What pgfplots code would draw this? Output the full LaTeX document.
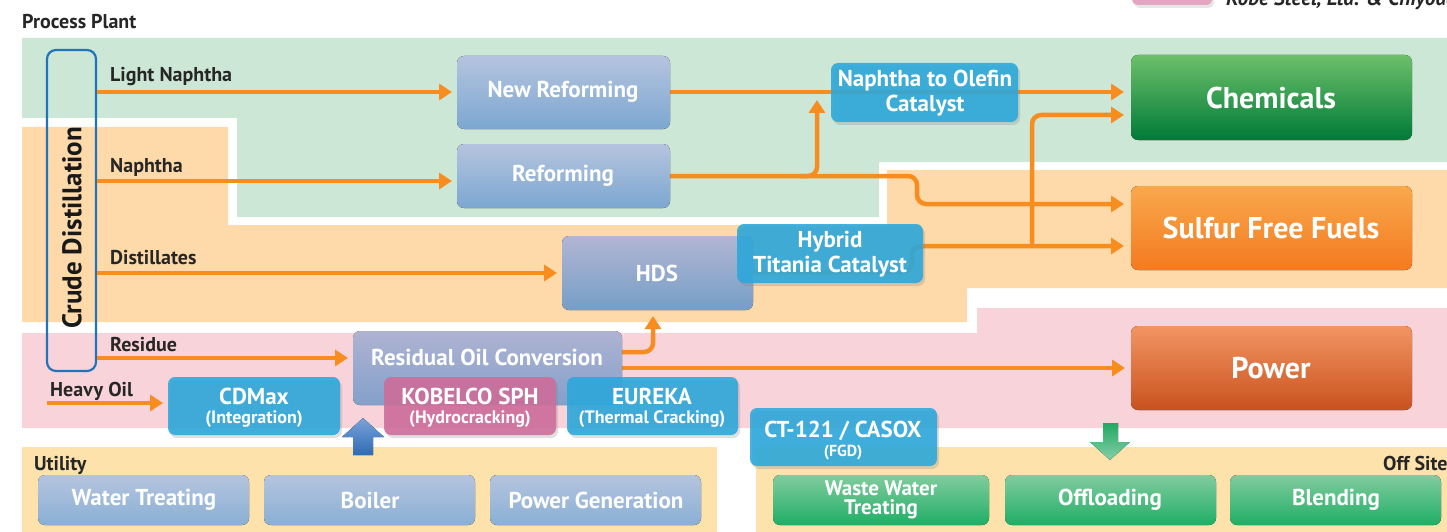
\documentclass[border=0pt]{standalone}
\usepackage{fontspec}
\setmainfont{PT Sans}
\usepackage{pgfplots}
\pgfplotsset{compat=1.18}
\usetikzlibrary{arrows.meta,calc,shadows}

\definecolor{bgGreen}{HTML}{CCE7D6}
\definecolor{bgOrange}{HTML}{FED9A9}
\definecolor{bgPink}{HTML}{F9D3DA}
\definecolor{bgUtil}{HTML}{FDE2AB}
\definecolor{bgTop}{HTML}{B5C4DE}
\definecolor{bgBot}{HTML}{7CA7D1}
\definecolor{rocTop}{HTML}{B8BCDD}
\definecolor{rocBot}{HTML}{8AA9D5}
\definecolor{cyanBox}{HTML}{2AA8DC}
\definecolor{pinkBox}{HTML}{CF6C9B}
\definecolor{chemTop}{HTML}{6CC06A}
\definecolor{chemBot}{HTML}{007A38}
\definecolor{sffTop}{HTML}{F9A84C}
\definecolor{sffBot}{HTML}{F47A20}
\definecolor{powTop}{HTML}{F29563}
\definecolor{powBot}{HTML}{C9521E}
\definecolor{offTop}{HTML}{82CC9E}
\definecolor{offBot}{HTML}{1FAE66}
\definecolor{lineOr}{HTML}{F68D1E}
\definecolor{crudeBlue}{HTML}{1F74BC}
\definecolor{arrBlueTop}{HTML}{7BA3DA}
\definecolor{arrBlueBot}{HTML}{2D6BB4}
\definecolor{arrGreen}{HTML}{22A862}
\definecolor{legPink}{HTML}{E3A5C2}

\newcommand{\gbox}[6]{\fill[rounded corners=7pt, top color=#5, bottom color=#6] (axis cs:#1,#2) rectangle (axis cs:#3,#4);}
\newcommand{\cbox}[5]{\fill[rounded corners=7pt, fill=#5, fill opacity=0.88, drop shadow={opacity=0.25,shadow xshift=2pt,shadow yshift=-3pt}] (axis cs:#1,#2) rectangle (axis cs:#3,#4);}

\begin{document}
\begin{tikzpicture}[
  txt/.style={text=white, font=\bfseries\fontsize{23}{25}\selectfont, align=center, inner sep=0pt},
  big/.style={text=white, font=\bfseries\fontsize{30}{34}\selectfont, align=center, inner sep=0pt},
  lab/.style={text=black!85, font=\bfseries\fontsize{20}{22}\selectfont, anchor=base west, inner sep=0pt},
]
\begin{axis}[scale only axis, width=1447pt, height=532pt,
  xmin=0, xmax=1447, ymin=0, ymax=532, y dir=reverse,
  axis lines=none, clip=false,
  ol/.style={color=lineOr, line width=4.5pt, mark=none, rounded corners=9pt, -{Triangle[length=13pt,width=16pt]}},
]
% ---------- background regions
\fill[bgGreen] (axis cs:22,38) -- (axis cs:1447,38) -- (axis cs:1447,162) -- (axis cs:879,162) -- (axis cs:879,217) -- (axis cs:237,217) -- (axis cs:237,118) -- (axis cs:22,118) -- cycle;
\fill[bgOrange] (axis cs:22,127) -- (axis cs:228,127) -- (axis cs:228,225) -- (axis cs:887,225) -- (axis cs:887,170) -- (axis cs:1447,170) -- (axis cs:1447,288) -- (axis cs:967,288) -- (axis cs:967,322) -- (axis cs:22,322) -- cycle;
\fill[bgPink] (axis cs:22,333) -- (axis cs:977,333) -- (axis cs:977,308) -- (axis cs:1447,308) -- (axis cs:1447,428) -- (axis cs:22,428) -- cycle;
\fill[bgUtil] (axis cs:22,447) rectangle (axis cs:717,532);
\fill[bgUtil] (axis cs:756,447) rectangle (axis cs:1447,532);

% ---------- titles
\node[lab] at (axis cs:22,29) {Process Plant};
\node[lab] at (axis cs:34,470) {Utility};
\node[lab] at (axis cs:1383,470) {Off Site};
\fill[legPink, rounded corners=6pt, drop shadow={opacity=0.2,shadow xshift=2pt,shadow yshift=-3pt}] (axis cs:1132,-20) rectangle (axis cs:1212,5);
\node[text=black!85, font=\bfseries\itshape\fontsize{21}{24}\selectfont, anchor=base west, inner sep=0pt] at (axis cs:1226,6) {Kobe Steel, Ltd. \& Chiyoda};

% ---------- crude distillation
\draw[crudeBlue, line width=2.2pt, rounded corners=9pt] (axis cs:47,50) rectangle (axis cs:96,371);
\node[rotate=90, text=black!90, font=\bfseries\fontsize{27}{30}\selectfont, inner sep=0pt] at (axis cs:72,228) {Crude Distillation};

% ---------- stream labels
\node[lab] at (axis cs:110,82) {Light Naphtha};
\node[lab] at (axis cs:110,172) {Naphtha};
\node[lab] at (axis cs:110,264) {Distillates};
\node[lab] at (axis cs:110,351) {Residue};
\node[lab] at (axis cs:50,396) {Heavy Oil};

% ---------- orange flows
\addplot[ol] coordinates {(97,92) (452,92)};
\addplot[ol] coordinates {(97,181) (452,181)};
\addplot[ol] coordinates {(97,273) (557,273)};
\addplot[ol] coordinates {(97,358) (348,358)};
\addplot[ol] coordinates {(47,403) (163,403)};
\addplot[ol] coordinates {(670,92) (1124,92)};
\addplot[ol] coordinates {(670,176) (817,176) (817,100)};
\addplot[ol] coordinates {(800,176) (917,176) (917,204) (1124,204)};
\addplot[ol] coordinates {(745,272) (912,272) (912,246) (1124,246)};
\addplot[ol] coordinates {(1032,246) (1032,115) (1124,115)};
\addplot[ol] coordinates {(615,352) (653,352) (653,316)};
\addplot[ol] coordinates {(615,368) (1125,368)};

% ---------- grey-blue process boxes
\gbox{457}{56}{670}{129}{bgTop}{bgBot}
\node[txt] at (axis cs:563,92) {New Reforming};
\gbox{457}{144}{670}{208}{bgTop}{bgBot}
\node[txt] at (axis cs:563,176) {Reforming};
\fill[rounded corners=7pt, top color=rocTop!95!white, bottom color=bgBot, fill opacity=0.95] (axis cs:562,236) rectangle (axis cs:753,310);
\node[txt] at (axis cs:657,273) {HDS};
\fill[rounded corners=7pt, top color=rocTop, bottom color=rocBot, fill opacity=0.95] (axis cs:353,331) rectangle (axis cs:622,405);
\node[txt] at (axis cs:487,357) {Residual Oil Conversion};

% ---------- catalyst / technology boxes
\cbox{831}{63}{1018}{122}{cyanBox}
\node[txt] at (axis cs:925,93) {Naphtha to Olefin\\Catalyst};
\cbox{737}{224}{923}{283}{cyanBox}
\node[txt] at (axis cs:830,254) {Hybrid\\Titania Catalyst};
\cbox{168}{377}{340}{435}{cyanBox}
\node[txt] at (axis cs:254,396) {CDMax};
\node[txt, font=\bfseries\fontsize{18}{20}\selectfont] at (axis cs:254,419) {(Integration)};
\cbox{384}{377}{556}{435}{pinkBox}
\node[txt] at (axis cs:470,396) {KOBELCO SPH};
\node[txt, font=\bfseries\fontsize{18}{20}\selectfont] at (axis cs:470,419) {(Hydrocracking)};
\cbox{567}{377}{738}{435}{cyanBox}
\node[txt] at (axis cs:652,396) {EUREKA};
\node[txt, font=\bfseries\fontsize{18}{20}\selectfont] at (axis cs:652,419) {(Thermal Cracking)};
\cbox{750}{408}{937}{466}{cyanBox}
\node[txt] at (axis cs:843,431) {CT-121 / CASOX};
\node[txt, font=\bfseries\fontsize{16}{19}\selectfont] at (axis cs:843,453) {(FGD)};

% ---------- products
\gbox{1131}{55}{1412}{140}{chemTop}{chemBot}
\node[big] at (axis cs:1271,98) {Chemicals};
\gbox{1131}{186}{1412}{270}{sffTop}{sffBot}
\node[big] at (axis cs:1271,228) {Sulfur Free Fuels};
\gbox{1131}{326}{1412}{410}{powTop}{powBot}
\node[big] at (axis cs:1271,368) {Power};

% ---------- utility boxes
\gbox{38}{475}{249}{525}{bgTop}{bgBot!90!white}
\node[txt] at (axis cs:144,500) {Water Treating};
\gbox{264}{475}{475}{525}{bgTop}{bgBot!90!white}
\node[txt] at (axis cs:370,500) {Boiler};
\gbox{490}{475}{701}{525}{bgTop}{bgBot!90!white}
\node[txt] at (axis cs:596,500) {Power Generation};

% ---------- off site boxes
\gbox{773}{475}{989}{525}{offTop}{offBot}
\node[txt, font=\bfseries\fontsize{21}{19}\selectfont] at (axis cs:881,500) {Waste Water\\Treating};
\gbox{1005}{475}{1216}{525}{offTop}{offBot}
\node[txt] at (axis cs:1110,500) {Offloading};
\gbox{1230}{475}{1441}{525}{offTop}{offBot}
\node[txt] at (axis cs:1336,500) {Blending};

% ---------- big arrows
\fill[top color=arrBlueTop, bottom color=arrBlueBot] (axis cs:353,455) -- (axis cs:353,437) -- (axis cs:342,437) -- (axis cs:363,418) -- (axis cs:384,437) -- (axis cs:373,437) -- (axis cs:373,455) -- cycle;
\fill[top color=arrGreen, bottom color=arrGreen!55!white] (axis cs:1103,423) -- (axis cs:1118,423) -- (axis cs:1118,442) -- (axis cs:1130,442) -- (axis cs:1110,460) -- (axis cs:1090,442) -- (axis cs:1103,442) -- cycle;
\end{axis}
\pgfresetboundingbox
\useasboundingbox (current axis.south west) rectangle (current axis.north east);
\end{tikzpicture}
\end{document}
